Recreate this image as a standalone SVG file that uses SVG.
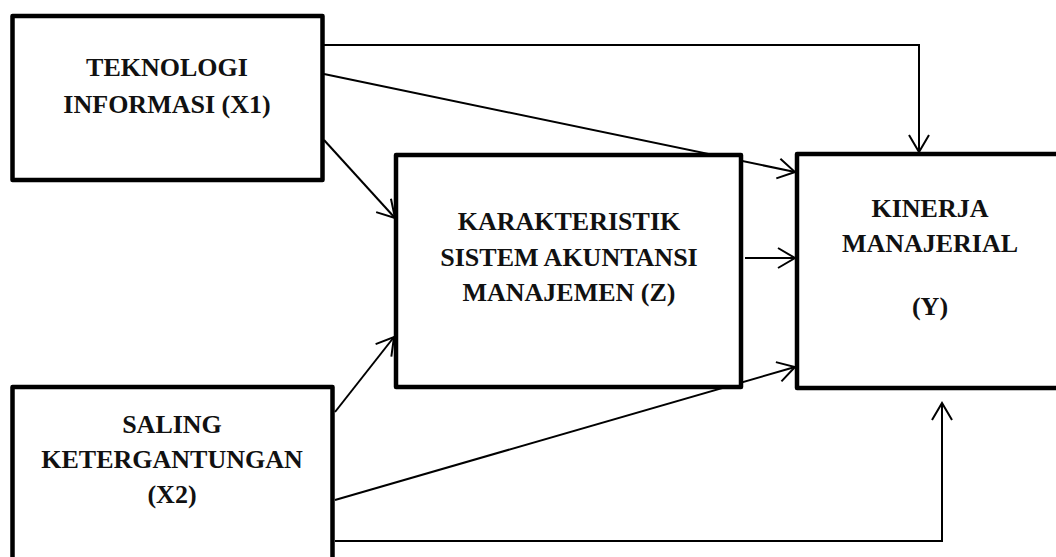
<svg xmlns="http://www.w3.org/2000/svg" width="1056" height="557" viewBox="0 0 1056 557">
<style>
.box{fill:#fff;stroke:#000;stroke-width:4.5;stroke-linejoin:round}
.lbl{font-family:"Liberation Serif","Times New Roman",serif;font-weight:bold;font-size:26px;fill:#111;text-anchor:middle}
.con{fill:none;stroke:#000;stroke-width:2}
</style>
<defs>
<marker id="arr" markerUnits="userSpaceOnUse" viewBox="-20 -12 22 24" refX="0" refY="0" markerWidth="22" markerHeight="24" orient="auto">
<path d="M -17 -10 L 0 0 L -17 10" fill="none" stroke="#000" stroke-width="2"/>
</marker>
</defs>
<rect x="0" y="0" width="1056" height="557" fill="#fff"/>
<g id="connectors">
<polyline class="con" points="322,45 919,45 919,152" marker-end="url(#arr)"/>
<line class="con" x1="324" y1="74" x2="795" y2="172" marker-end="url(#arr)"/>
<line class="con" x1="324" y1="140" x2="395" y2="218" marker-end="url(#arr)"/>
<line class="con" x1="335" y1="412" x2="394" y2="337" marker-end="url(#arr)"/>
<line class="con" x1="745" y1="258" x2="795" y2="258" marker-end="url(#arr)"/>
<line class="con" x1="335" y1="500" x2="795" y2="367" marker-end="url(#arr)"/>
<polyline class="con" points="335,541 942,541 942,403" marker-end="url(#arr)"/>
</g>
<g id="x1">
<rect class="box" x="12.5" y="16" width="310" height="164"/>
<text class="lbl" x="167" y="76">TEKNOLOGI</text>
<text class="lbl" x="167" y="113">INFORMASI (X1)</text>
</g>
<g id="z">
<rect class="box" x="396" y="155" width="345" height="232"/>
<text class="lbl" x="569" y="230">KARAKTERISTIK</text>
<text class="lbl" x="569" y="266">SISTEM AKUNTANSI</text>
<text class="lbl" x="569" y="301">MANAJEMEN (Z)</text>
</g>
<g id="y">
<rect class="box" x="797" y="154" width="280" height="234"/>
<text class="lbl" x="930" y="217">KINERJA</text>
<text class="lbl" x="930" y="252">MANAJERIAL</text>
<text class="lbl" x="930" y="315">(Y)</text>
</g>
<g id="x2">
<rect class="box" x="12.5" y="387" width="320" height="200"/>
<text class="lbl" x="172" y="433">SALING</text>
<text class="lbl" x="172" y="468">KETERGANTUNGAN</text>
<text class="lbl" x="172" y="503">(X2)</text>
</g>
</svg>
